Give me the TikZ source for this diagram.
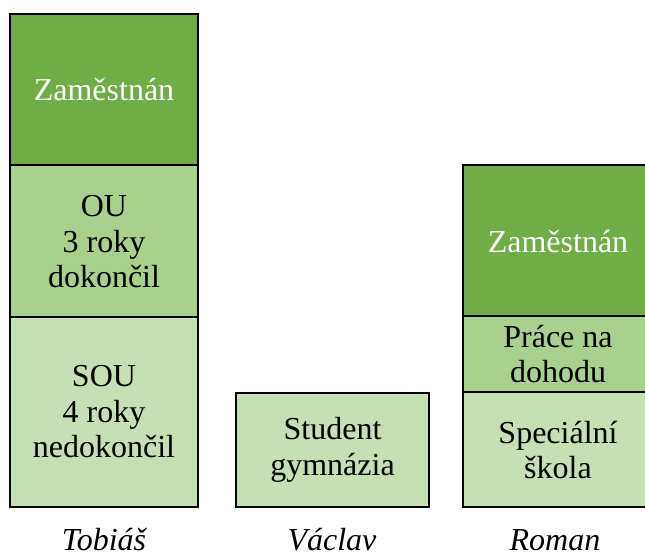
\documentclass[tikz,border=0pt]{standalone}
\usepackage{fontspec}
\setmainfont{Liberation Serif}
\definecolor{gdark}{HTML}{70AD47}
\definecolor{gmid}{HTML}{A9D18E}
\definecolor{glight}{HTML}{C5E0B4}
\begin{document}
\begin{tikzpicture}[x=1pt,y=-1pt,
  blk/.style={draw=black,line width=2pt},
  txt/.style={align=center,font=\fontsize{32}{35.5}\selectfont},
  wtxt/.style={txt,text=white},
  nm/.style={anchor=base,font=\fontsize{32}{35.5}\selectfont\itshape}]
\useasboundingbox (0,0) rectangle (645,556);
% Tobias
\filldraw[blk,fill=gdark] (10,14) rectangle (198,165);
\filldraw[blk,fill=gmid] (10,165) rectangle (198,317);
\filldraw[blk,fill=glight] (10,317) rectangle (198,507);
\node[wtxt] (t1) at (104,90) {Zaměstnán};
\node[txt] (t2) at (104,242) {OU\\3 roky\\dokončil};
\node[txt] (t3) at (104,412) {SOU\\4 roky\\nedokončil};
% Vaclav
\filldraw[blk,fill=glight] (236,393) rectangle (429,507);
\node[txt] (v1) at (332.5,450) {Student\\gymnázia};
% Roman
\filldraw[blk,fill=gdark] (463,165) rectangle (654,316);
\filldraw[blk,fill=gmid] (463,316) rectangle (654,392);
\filldraw[blk,fill=glight] (463,392) rectangle (654,507);
\node[wtxt] (r1) at (558,242) {Zaměstnán};
\node[txt] (r2) at (558,354) {Práce na\\dohodu};
\node[txt] (r3) at (558,450) {Speciální\\škola};
% names
\node[nm] (n1) at (104,550) {Tobiáš};
\node[nm] (n2) at (332,550) {Václav};
\node[nm] (n3) at (555,550) {Roman};
\end{tikzpicture}
\end{document}
